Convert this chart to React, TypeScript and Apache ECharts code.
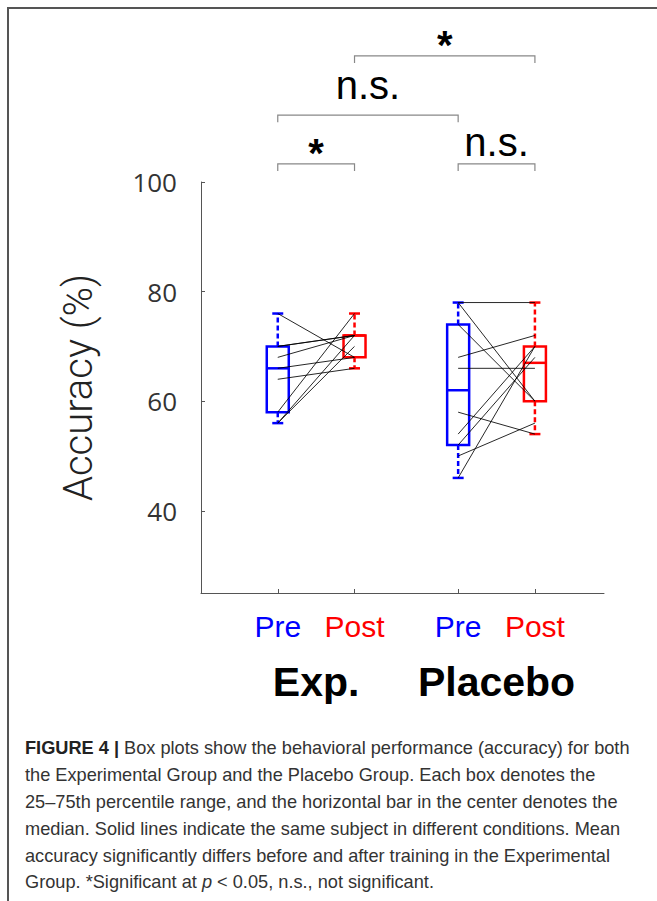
import React, { useEffect, useRef } from "react";
import * as echarts from "echarts";

// ---- data ----
const groupNames = ["Exp.", "Placebo"];
const groupCenters = [1.5, 3.85];
const conditionNames = ["Pre", "Post", "Pre", "Post"];
const boxPositions = [1, 2, 3.35, 4.35];
const boxColors = ["#0000ff", "#ff0000", "#0000ff", "#ff0000"];
// [min, Q1, median, Q3, max]
const expPreBox = [56, 58, 66, 70, 76];
const expPostBox = [66, 68, 72, 72, 76];
const placeboPreBox = [46, 52, 62, 74, 78];
const placeboPostBox = [54, 60, 67, 70, 78];
// per-subject accuracy (%)
const expPre = [76, 70, 70, 68, 66, 64, 58, 56, 56];
const expPost = [68, 72, 72, 72, 68, 66, 76, 72, 70];
const placeboPre = [78, 78, 74, 68, 66, 58, 54, 52, 50, 46];
const placeboPost = [78, 60, 60, 72, 66, 54, 70, 68, 56, 70];
const yTicks = [40, 60, 80, 100];
// significance brackets
const bracketFrom = [1, 3.35, 1, 2];
const bracketTo = [2, 4.35, 3.35, 4.35];
const bracketLevels = [103.3, 103.3, 112.2, 123];
const bracketLabels = ["*", "n.s.", "n.s.", "*"];
const bracketLabelGap = [-9, 2, 10, -9];

const captionLines = [
  "{b|FIGURE 4 |} Box plots show the behavioral performance (accuracy) for both",
  "the Experimental Group and the Placebo Group. Each box denotes the",
  "25\u201375th percentile range, and the horizontal bar in the center denotes the",
  "median. Solid lines indicate the same subject in different conditions. Mean",
  "accuracy significantly differs before and after training in the Experimental",
  "Group. *Significant at {i|p} < 0.05, n.s., not significant.",
];

export default function App() {
  const ref = useRef<HTMLDivElement>(null);
  useEffect(() => {
    if (!ref.current) return;
    const chart = echarts.init(ref.current, null, { renderer: "svg" });
    const boxes = [expPreBox, expPostBox, placeboPreBox, placeboPostBox];
    const boxData = boxPositions.map((p, i) => [p, ...boxes[i], i]);
    const subjectData: number[][] = [];
    expPre.forEach((v, i) => subjectData.push([boxPositions[0], v, boxPositions[1], expPost[i]]));
    placeboPre.forEach((v, i) => subjectData.push([boxPositions[2], v, boxPositions[3], placeboPost[i]]));
    const bracketData = bracketFrom.map((f, i) => [f, bracketTo[i], bracketLevels[i], i]);

    const findIdx = (v: number) => boxPositions.findIndex((p) => Math.abs(p - v) < 1e-6);
    const gIdx = (v: number) => groupCenters.findIndex((p) => Math.abs(p - v) < 1e-6);

    const option: any = {
      animation: false,
      grid: { left: 201, right: 53, top: 182, bottom: 308, containLabel: false },
      xAxis: [
        {
          type: "value",
          min: 0,
          max: 5.25,
          splitLine: { show: false },
          axisLine: { show: true, lineStyle: { color: "#555", width: 1 } },
          axisTick: { show: true, inside: true, length: 4, customValues: boxPositions, lineStyle: { color: "#555" } },
          axisLabel: {
            customValues: boxPositions,
            margin: 18,
            formatter: (v: number) => {
              const i = findIdx(v);
              if (i < 0) return "";
              return i % 2 === 0 ? "{pre|" + conditionNames[i] + "}" : "{post|" + conditionNames[i] + "}";
            },
            rich: {
              pre: { color: "#0000ff", fontSize: 30, fontFamily: "Liberation Sans" },
              post: { color: "#ff0000", fontSize: 30, fontFamily: "Liberation Sans" },
            },
          },
        },
        {
          type: "value",
          min: 0,
          max: 5.25,
          position: "bottom",
          splitLine: { show: false },
          axisLine: { show: false },
          axisTick: { show: false },
          axisLabel: {
            customValues: groupCenters,
            margin: 68,
            formatter: (v: number) => {
              const i = gIdx(v);
              return i < 0 ? "" : groupNames[i];
            },
            color: "#000",
            fontSize: 41,
            fontWeight: "bold",
            fontFamily: "Liberation Sans",
          },
        },
      ],
      yAxis: {
        type: "value",
        min: 25,
        max: 100,
        splitLine: { show: false },
        axisLine: { show: true, lineStyle: { color: "#555", width: 1 } },
        axisTick: { show: true, inside: true, length: 4, customValues: yTicks, lineStyle: { color: "#555" } },
        axisLabel: {
          customValues: yTicks,
          margin: 24,
          color: "#333",
          fontSize: 26,
          fontFamily: "Open Sans",
        },
        name: "Accuracy (%)",
        nameLocation: "middle",
        nameGap: 103,
        nameTextStyle: { fontSize: 40, fontFamily: "Roboto", fontWeight: 300, color: "#222" },
      },
      series: [
        {
          type: "custom",
          name: "boxes",
          data: boxData,
          clip: false,
          renderItem: (params: any, api: any) => {
            const x = api.value(0);
            const color = boxColors[api.value(6)];
            const pMin = api.coord([x, api.value(1)]);
            const pQ1 = api.coord([x, api.value(2)]);
            const pMed = api.coord([x, api.value(3)]);
            const pQ3 = api.coord([x, api.value(4)]);
            const pMax = api.coord([x, api.value(5)]);
            const cx = pMed[0];
            const hw = 11;
            const cap = 5.5;
            const st = { stroke: color, lineWidth: 2.5, fill: "none" };
            const dash = { stroke: color, lineWidth: 2.5, lineDash: [5, 3] };
            return {
              type: "group",
              children: [
                { type: "line", shape: { x1: cx, y1: pQ3[1], x2: cx, y2: pMax[1] }, style: dash },
                { type: "line", shape: { x1: cx, y1: pQ1[1], x2: cx, y2: pMin[1] }, style: dash },
                { type: "line", shape: { x1: cx - cap, y1: pMax[1], x2: cx + cap, y2: pMax[1] }, style: st },
                { type: "line", shape: { x1: cx - cap, y1: pMin[1], x2: cx + cap, y2: pMin[1] }, style: st },
                { type: "rect", shape: { x: cx - hw, y: pQ3[1], width: hw * 2, height: pQ1[1] - pQ3[1] }, style: st },
                { type: "line", shape: { x1: cx - hw, y1: pMed[1], x2: cx + hw, y2: pMed[1] }, style: st },
              ],
            };
          },
        },
        {
          type: "custom",
          name: "subjects",
          data: subjectData,
          clip: false,
          renderItem: (params: any, api: any) => {
            const a = api.coord([api.value(0), api.value(1)]);
            const b = api.coord([api.value(2), api.value(3)]);
            return {
              type: "line",
              shape: { x1: a[0], y1: a[1], x2: b[0], y2: b[1] },
              style: { stroke: "#000", lineWidth: 0.85 },
            };
          },
        },
        {
          type: "custom",
          name: "brackets",
          data: bracketData,
          clip: false,
          renderItem: (params: any, api: any) => {
            const a = api.coord([api.value(0), api.value(2)]);
            const b = api.coord([api.value(1), api.value(2)]);
            const idx = api.value(3);
            const label = bracketLabels[idx];
            const isStar = label === "*";
            const mid = (a[0] + b[0]) / 2;
            return {
              type: "group",
              children: [
                {
                  type: "polyline",
                  shape: { points: [[a[0], a[1] + 7], [a[0], a[1]], [b[0], b[1]], [b[0], b[1] + 7]] },
                  style: { stroke: "#888", lineWidth: 1.2, fill: "none" },
                },
                {
                  type: "text",
                  x: mid,
                  y: a[1] - bracketLabelGap[idx],
                  style: {
                    text: label,
                    fill: "#000",
                    fontSize: 40,
                    fontFamily: isStar ? "Liberation Sans" : "Liberation Sans Narrow, Liberation Sans",
                    fontWeight: isStar ? "bold" : "normal",
                    textAlign: "center",
                    textVerticalAlign: "bottom",
                  },
                },
              ],
            };
          },
        },
      ],
      graphic: [
        {
          type: "rect",
          z: -10,
          shape: { x: 8, y: 8, width: 720, height: 1000 },
          style: { fill: "none", stroke: "#555", lineWidth: 2 },
        },
        {
          type: "text",
          x: 25,
          y: 735,
          style: {
            text: captionLines.join("\n"),
            fontSize: 18.2,
            lineHeight: 26.8,
            fontFamily: "Liberation Sans",
            fill: "#333",
            rich: {
              b: { fontSize: 18.2, lineHeight: 26.8, fontFamily: "Liberation Sans", fontWeight: "bold", fill: "#222" },
              i: { fontSize: 18.2, lineHeight: 26.8, fontFamily: "Liberation Sans", fontStyle: "italic", fill: "#333" },
            },
          },
        },
      ],
    };
    chart.setOption(option);
    return () => chart.dispose();
  }, []);
  return (
    <div
      ref={ref}
      style={{ position: "fixed", left: 0, top: 0, width: 657, height: 901, background: "#fff" }}
    />
  );
}
